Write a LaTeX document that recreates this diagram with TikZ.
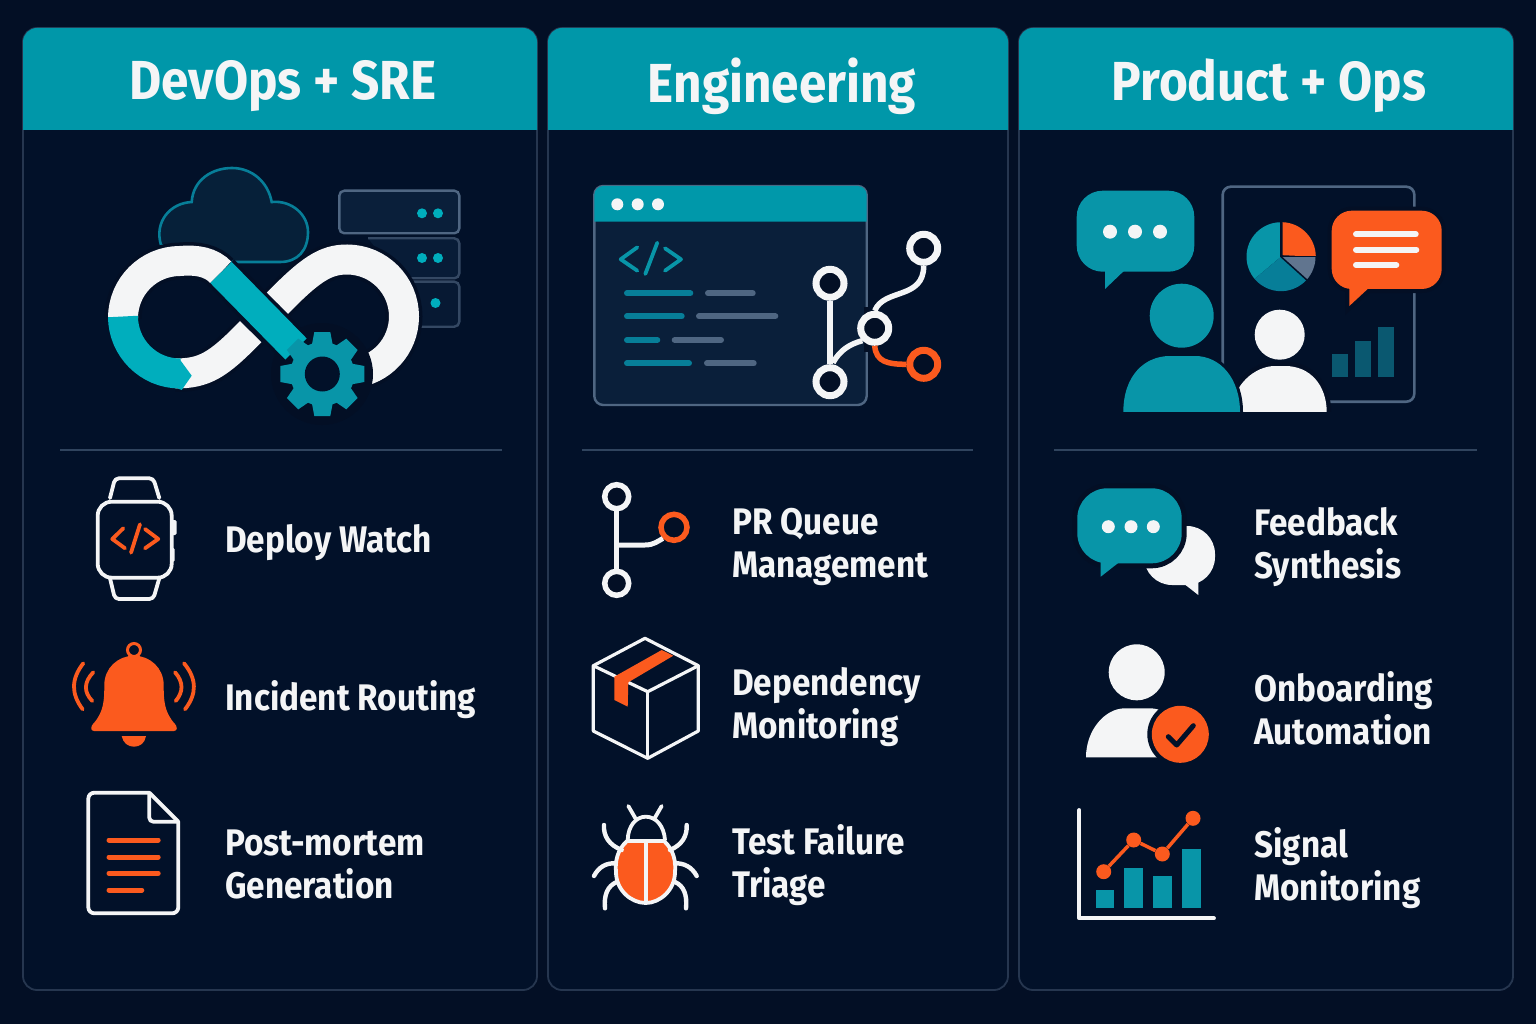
\documentclass[tikz,border=0pt]{standalone}
\usepackage{fontspec}
\setmainfont{Fira Sans}[FakeStretch=0.90]
\definecolor{bgnavy}{HTML}{030F25}
\definecolor{panelnavy}{HTML}{021129}
\definecolor{panelline}{HTML}{26364F}
\definecolor{headerteal}{HTML}{0097A9}
\definecolor{brightteal}{HTML}{00AEBD}
\definecolor{iconteal}{HTML}{0895A8}
\definecolor{darkteal}{HTML}{077E98}
\definecolor{burnt}{HTML}{FB5A1E}
\definecolor{offwhite}{HTML}{F4F5F6}
\definecolor{slate}{HTML}{4F6682}
\definecolor{barteal}{HTML}{0A5870}
\definecolor{cloudfill}{HTML}{062039}
\definecolor{windowfill}{HTML}{0A1F3A}
\tikzset{
  panelbox/.style={draw=panelline, line width=1.8pt, fill=panelnavy, rounded corners=14pt},
  headerband/.style={fill=headerteal},
  divider/.style={draw=slate!60!panelnavy, line width=1.5pt},
  headtext/.style={text=offwhite, font=\fontsize{55}{60}\selectfont\bfseries},
  itemtext/.style={anchor=west, align=left, inner sep=0pt, text=offwhite, font=\fontsize{37}{43}\selectfont\bfseries},
  bandline/.style={line width=30pt, preaction={draw=bgnavy, line width=37pt}},
  outline/.style={draw=offwhite, line width=3.8pt, line join=round, line cap=round},
  tagline/.style={line width=3.8pt, line cap=round, line join=round},
  stripe/.style={line width=6pt, line cap=round},
  gitring/.style={circle, draw=offwhite, fill=bgnavy, inner sep=0pt, line width=7pt, minimum size=28pt},
  smallring/.style={circle, draw=offwhite, fill=bgnavy, inner sep=0pt, line width=5.5pt, minimum size=24pt},
  linedot/.style={circle, fill=burnt, inner sep=0pt, minimum size=15pt},
  bubblehalo/.style={draw=bgnavy, line width=8pt},
  serverbox/.style={line width=2.4pt, rounded corners=5pt}
}
\begin{document}
\begin{tikzpicture}[x=1pt, y=-1pt]
\useasboundingbox (0,0) rectangle (1536,1024);
\fill[bgnavy] (0,0) rectangle (1536,1024);

% panels
\draw[panelbox] (23,28) rectangle (537,990);
\draw[panelbox] (548,28) rectangle (1008,990);
\draw[panelbox] (1019,28) rectangle (1513,990);
\fill[headerband] (23,130) [rounded corners=14pt] -- (23,28) -- (537,28) [sharp corners] -- (537,130) -- cycle;
\fill[headerband] (548,130) [rounded corners=14pt] -- (548,28) -- (1008,28) [sharp corners] -- (1008,130) -- cycle;
\fill[headerband] (1019,130) [rounded corners=14pt] -- (1019,28) -- (1513,28) [sharp corners] -- (1513,130) -- cycle;
\node[headtext] (headDevops) at (283,86) {DevOps + SRE};
\node[headtext] (headEng) at (782,86) {Engineering};
\node[headtext] (headProduct) at (1269,86) {Product + Ops};
\draw[divider] (60,450) -- (502,450);
\draw[divider] (582,450) -- (973,450);
\draw[divider] (1054,450) -- (1477,450);

% cloud
\draw[draw=darkteal, fill=cloudfill, line width=2.6pt] (161,245) .. controls (154,222) and (170,203) .. (191.7,202) .. controls (193,180) and (212,168) .. (232,168) .. controls (252,168) and (268,182) .. (271.7,202) .. controls (292,200) and (308,215) .. (308,232) .. controls (308,250) and (298,262) .. (280,262) -- (200,262) -- cycle;
% servers
\draw[serverbox, draw=slate, fill=windowfill] (339.3,190.7) rectangle (459.3,233.3);
\draw[serverbox, draw=slate!65!panelnavy, fill=windowfill!80!panelnavy] (368,238.3) -- (459.3,238.3) -- (459.3,278.3) -- (400,278.3);
\draw[serverbox, draw=slate!65!panelnavy, fill=windowfill!60!panelnavy] (405,281.7) -- (459.3,281.7) -- (459.3,326.7) -- (415,326.7);
\foreach \px/\py in {422/213.3,438/213.3,422/258,438/258,435.5/303}
  \fill[brightteal] (\px,\py) circle (5pt);

% infinity loop
\draw[bandline, offwhite] (277.3,303.3) .. controls (310,270) and (325,259.5) .. (347,259.5) arc (90:-85:57pt); %upper right and right loop
\fill[bgnavy] (322,374) circle (51pt);
\draw[bandline, offwhite] (175,373.5) .. controls (205,373.5) and (218,365) .. (250.7,331.7); %lower left
\draw[bandline, offwhite] (123,318) arc (180:90:57pt) .. controls (197,259.5) and (211,262) .. (221,272.5); %upper left
\draw[bandline, brightteal] (221,272.5) -- (296,349); %diagonal
\draw[line width=30pt, brightteal] (123,316.5) arc (180:270:57pt);
\fill[brightteal] (178,358.5) -- (180.7,360.7) -- (191.7,375.7) -- (181.7,390) -- (178,388.5) -- cycle;
% gear
\fill[bgnavy] (322.3,374) circle (37pt);
\begin{scope}[shift={(322.3,374)}]
\foreach \a in {0,45,...,315}
  \fill[iconteal, rotate=\a] (-8,-42) -- (8,-42) -- (11,-26) -- (-11,-26) -- cycle;
\fill[iconteal] (0,0) circle (32pt);
\fill[panelnavy] (0,0) circle (17.5pt);
\end{scope}
\node[itemtext] (deployLabel) at (225,543) {Deploy Watch};

% code window
\draw[draw=slate, fill=windowfill, line width=2.4pt, rounded corners=9pt] (594.3,186) rectangle (866.7,405);
\fill[headerteal!95!brightteal] (594.3,221.7) [rounded corners=9pt] -- (594.3,186) -- (866.7,186) [sharp corners] -- (866.7,221.7) -- cycle;
\foreach \px in {617.3,637.7,658}
  \fill[offwhite] (\px,204.3) circle (6pt);
\draw[tagline, iconteal] (637.3,247.3) -- (620.7,259.3) -- (637.3,270.7);
\draw[tagline, iconteal] (657.3,242.7) -- (645.3,274);
\draw[tagline, iconteal] (665,248.3) -- (681,259.3) -- (665,270.7);
\foreach \ya/\xa/\xb/\xc in {293.3/693.3/705/755.7,316.3/684.7/696/778.3,340/660.3/671.7/724,363.3/692/704/756.7}{
  \draw[stripe, darkteal] (627,\ya) -- (\xa-3,\ya);
  \draw[stripe, slate] (\xb+3,\ya) -- (\xc-3,\ya);
}
% git graph
\draw[bgnavy, line width=5pt] (866.7,307) -- (866.7,352);
\node[gitring] (gitTop) at (923.7,248.3) {};
\node[gitring] (gitLeft) at (830,283.3) {};
\node[gitring] (gitBottom) at (830,381.7) {};
\node[gitring] (gitMid) at (874.7,328.3) {};
\node[gitring, draw=burnt] (gitOrange) at (923.7,364.3) {};
\draw[offwhite, line width=5.5pt] (gitLeft) -- (gitBottom);
\draw[offwhite, line width=5.5pt] (gitBottom) ++(3,-19) .. controls (840,350) and (850,344) .. (gitMid.south west);
\draw[offwhite, line width=5.5pt] (gitMid.north) .. controls (884,288) and (923.7,300) .. (gitTop.south);
\draw[burnt, line width=5.5pt] (gitMid.south) .. controls (876,362) and (888,364.3) .. (gitOrange.west);

% people board
\draw[draw=slate, line width=2.6pt, rounded corners=8pt] (1222.7,186.7) rectangle (1414.3,401.7);
\begin{scope}[shift={(1281,256.7)}, y=1pt]
\fill[iconteal] (0,0) -- (90:34.5) arc (90:220:34.5) -- cycle;
\fill[darkteal] (0,0) -- (220:34.5) arc (220:318:34.5) -- cycle;
\fill[slate!90!white] (0,0) -- (318:34.5) arc (318:360:34.5) -- cycle;
\fill[burnt] (1.5,1.5) -- (1.5,34.5) arc (88:0:34.5) -- cycle;
\draw[panelnavy, line width=1.5pt] (0,0) -- (90:35);
\draw[panelnavy, line width=1.5pt] (0,0) -- (318:35);
\draw[panelnavy, line width=1.5pt] (0,0) -- (0:35);
\end{scope}
\fill[barteal] (1332.3,354) rectangle (1348,377.3);
\fill[barteal] (1355,341) rectangle (1371,377.3);
\fill[barteal] (1378,326.7) rectangle (1394,377.3);
% bubbles
\path[bubblehalo] (1349.3,285) -- (1349.3,306) -- (1372,285) -- cycle;
\draw[bubblehalo, rounded corners=20pt] (1331.7,210.7) rectangle (1441.7,289);
\fill[burnt, rounded corners=20pt] (1331.7,210.7) rectangle (1441.7,289);
\fill[burnt] (1349.3,285) -- (1349.3,306) -- (1372,285) -- cycle;
\foreach \ya/\xb in {234.3/1418.7,249.7/1419.3,265/1399.3}
  \draw[stripe, offwhite] (1356,\ya) -- (\xb-3,\ya);
\fill[iconteal, rounded corners=26pt] (1076.7,190.7) rectangle (1194.3,271.7);
\fill[iconteal] (1105,268) -- (1105,289) -- (1127,268) -- cycle;
\foreach \px in {1110,1135,1160}
  \fill[offwhite] (\px,231.7) circle (7pt);
% people
\fill[offwhite] (1279.7,334.7) circle (25pt);
\draw[draw=bgnavy, fill=offwhite, line width=9pt] (1232,412.3) .. controls (1232,385) and (1255,366) .. (1275,366) -- (1285,366) .. controls (1310,366) and (1326.7,385) .. (1326.7,412.3) -- cycle;
\fill[offwhite] (1232,412.3) .. controls (1232,385) and (1255,366) .. (1275,366) -- (1285,366) .. controls (1310,366) and (1326.7,385) .. (1326.7,412.3) -- cycle;
\fill[iconteal] (1181.7,315.7) circle (32pt);
\draw[draw=panelnavy, fill=iconteal, line width=6pt] (1123.3,415) -- (1123.3,412.3) .. controls (1123.3,375) and (1145,356) .. (1170,356) -- (1195,356) .. controls (1220,356) and (1240,378) .. (1240,412.3) -- (1240,415) -- cycle;
\fill[iconteal] (1123.3,412.3) .. controls (1123.3,375) and (1145,356) .. (1170,356) -- (1195,356) .. controls (1220,356) and (1240,378) .. (1240,412.3) -- cycle;
\fill[panelnavy] (1115,412.3) rectangle (1335,425);

% watch
\draw[outline, rounded corners=4pt] (110,498) -- (115,478.3) -- (153.3,478.3) -- (159.3,498);
\draw[outline, rounded corners=4pt] (110,578.3) -- (115,599) -- (153.3,599) -- (159.3,578.3);
\draw[outline, rounded corners=14pt] (97.7,501.7) rectangle (171.7,577.7);
\fill[offwhite, rounded corners=1.5pt] (171,520) rectangle (176.7,535);
\fill[offwhite, rounded corners=1pt] (171,548) rectangle (174.5,561.7);
\draw[tagline, burnt] (123.3,528.3) -- (112.3,539) -- (125,548.3);
\draw[tagline, burnt] (140,524.3) -- (131,552.7);
\draw[tagline, burnt] (145,529) -- (158.3,539) -- (145,548.3);

% bell
\draw[burnt, line width=3pt] (134,650) circle (6.5pt);
\fill[burnt, line join=round] (94,731) .. controls (90,731) and (91,726) .. (93,724) .. controls (104,712) and (104.3,700) .. (104.3,685) .. controls (104.3,668) and (118,655.7) .. (134,655.7) .. controls (150,655.7) and (163.7,668) .. (163.7,685) .. controls (163.7,700) and (164,712) .. (175,724) .. controls (177,726) and (178,731) .. (174,731) -- cycle;
\fill[burnt] (121.7,736) .. controls (123,743) and (128,746.7) .. (134,746.7) .. controls (140,746.7) and (145,743) .. (146,736) -- cycle;
\draw[tagline, burnt] (83.3,663.3) .. controls (71,679) and (71,694) .. (82.7,709.3);
\draw[tagline, burnt] (93.3,672.3) .. controls (83.8,682) and (83.5,692) .. (92.3,701);
\draw[tagline, burnt] (184,663.3) .. controls (197,679) and (197,694) .. (185,709.3);
\draw[tagline, burnt] (175,672.3) .. controls (183.7,682) and (183.4,692) .. (175.7,701);
\node[itemtext] (incidentLabel) at (225,700) {Incident Routing};

% document
\draw[outline] (149.3,792.7) -- (178.3,821.7);
\draw[outline, rounded corners=6pt] (178.3,821.7) -- (178.3,913.3) -- (88.3,913.3) -- (88.3,792.7) -- (149.3,792.7);
\draw[outline, rounded corners=4pt] (149.3,792.7) -- (149.3,821.7) -- (178.3,821.7);
\foreach \ya/\xb in {840/160.7,857/160.7,873.3/160.7,890/144.3}
  \draw[line width=5pt, line cap=round, burnt] (109,\ya) -- (\xb-2.5,\ya);
\node[itemtext] (postLabel) at (225,864) {Post-mortem\\Generation};

% branch icon
\node[smallring] (prTop) at (616.7,496.7) {};
\node[smallring] (prBottom) at (616.7,583.3) {};
\node[smallring, draw=burnt, minimum size=26pt] (prOrange) at (674,527.3) {};
\draw[offwhite, line width=5pt] (prTop) -- (prBottom);
\draw[offwhite, line width=5pt] (616.7,545) -- (645,545) .. controls (654,545) and (658,541) .. (prOrange.south west);
\node[itemtext] (prLabel) at (732,547) {PR Queue\\Management};

% package
\draw[outline, line width=3.2pt] (593.3,665.7) -- (645,638.3) -- (698.3,665.7) -- (698.3,731) -- (647.7,758.3) -- (593.3,731) -- cycle;
\draw[outline, line width=3.2pt] (593.3,665.7) -- (647.7,691.7) -- (698.3,665.7);
\draw[outline, line width=3.2pt] (647.7,691.7) -- (647.7,758.3);
\fill[burnt] (614.3,676.7) -- (661.7,650) -- (673.3,655.7) -- (628.3,682.3) -- (627.7,706.7) -- (614.3,700) -- cycle;
\node[itemtext] (depLabel) at (732,707.5) {Dependency\\Monitoring};

% bug
\draw[outline, fill=burnt] (627,841) -- (664,841) .. controls (674,850) and (676,862) .. (675,872) .. controls (675,890) and (660,903) .. (645.7,903) .. controls (631,903) and (616,890) .. (616,872) .. controls (615,862) and (617,850) .. (627,841) -- cycle;
\draw[outline] (627.7,840) .. controls (628,826) and (636,816.7) .. (645.7,816.7) .. controls (656,816.7) and (664,826) .. (665,840);
\draw[outline] (645.7,841) -- (645.7,903);
\draw[outline] (628.3,806) -- (636,819.3);
\draw[outline] (661.7,806) -- (654,819.3);
\draw[outline, line width=4.4pt] (604,825) .. controls (603.3,836) and (609,845) .. (621.7,850);
\draw[outline, line width=4.4pt] (686.7,825) .. controls (687.3,836) and (682,845) .. (670,850);
\draw[outline, line width=4.4pt] (594,876) .. controls (598.7,867) and (606,863) .. (615,863.3);
\draw[outline, line width=4.4pt] (696.7,876) .. controls (692,867) and (684,863) .. (675,863.3);
\draw[outline, line width=4.4pt] (605,908.3) .. controls (603.7,895) and (607.5,886) .. (616.7,882);
\draw[outline, line width=4.4pt] (686,908.3) .. controls (687.3,895) and (684,886) .. (675,882);
\node[itemtext] (testLabel) at (732,865.5) {Test Failure\\Triage};

% feedback bubbles
\fill[offwhite, rounded corners=28pt] (1144,526) rectangle (1215,585);
\fill[offwhite] (1181.7,582) -- (1198.3,595) -- (1198.3,582) -- cycle;
\draw[bubblehalo, line width=10pt, rounded corners=30pt] (1077.3,488.3) rectangle (1181.7,563.3);
\fill[iconteal, rounded corners=30pt] (1077.3,488.3) rectangle (1181.7,563.3);
\fill[iconteal] (1100.7,560) -- (1100.7,576.7) -- (1122,560) -- cycle;
\foreach \px in {1108.3,1131,1153.3}
  \fill[offwhite] (\px,526.7) circle (6.5pt);
\node[itemtext] (feedbackLabel) at (1254,547) {Feedback\\Synthesis};

% onboarding
\fill[offwhite] (1136.7,672.3) circle (28pt);
\fill[offwhite] (1086,757.3) .. controls (1086,730) and (1105,708.3) .. (1125,708.3) -- (1150,708.3) .. controls (1170,708.3) and (1185,730) .. (1185,757.3) -- cycle;
\fill[panelnavy] (1180.3,734.3) circle (33pt);
\fill[burnt] (1180.3,734.3) circle (28.5pt);
\draw[panelnavy, line width=5pt, line cap=round, line join=round] (1168.3,736.7) -- (1176.7,745) -- (1193.3,725.7);
\node[itemtext] (onboardLabel) at (1254,708.5) {Onboarding\\Automation};

% signal chart
\foreach \xa/\xb/\ya in {1096/1114/890,1124.3/1142.7/868.3,1153/1171.7/876.3,1182.3/1200.7/849}
  \fill[iconteal] (\xa,\ya) rectangle (\xb,907.7);
\draw[outline] (1079.3,810) -- (1079.3,918.3) -- (1214,918.3);
\node[linedot] (sigA) at (1103.7,871.7) {};
\node[linedot] (sigB) at (1133.7,840) {};
\node[linedot] (sigC) at (1162.3,854) {};
\node[linedot] (sigD) at (1193,818.3) {};
\draw[burnt, line width=3.5pt] (sigA) -- (sigB) -- (sigC) -- (sigD);
\node[itemtext] (signalLabel) at (1254,868.5) {Signal\\Monitoring};
\end{tikzpicture}
\end{document}
